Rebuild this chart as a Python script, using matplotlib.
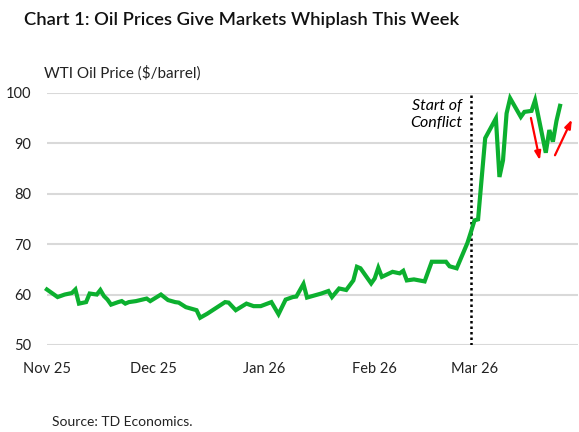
import matplotlib
matplotlib.use("Agg")
import matplotlib.pyplot as plt
import pandas as pd

plt.rcParams['font.family'] = ['Lato', 'DejaVu Sans']

# WTI price (turning points)
dates = ['2025-11-01', '2025-11-04', '2025-11-06', '2025-11-08', '2025-11-09', '2025-11-10',
         '2025-11-12', '2025-11-13', '2025-11-15', '2025-11-16', '2025-11-17', '2025-11-18',
         '2025-11-19', '2025-11-21', '2025-11-22', '2025-11-23', '2025-11-24', '2025-11-26',
         '2025-11-29', '2025-11-30', '2025-12-03', '2025-12-05', '2025-12-07', '2025-12-08',
         '2025-12-10', '2025-12-13', '2025-12-14', '2025-12-16', '2025-12-21', '2025-12-22',
         '2025-12-24', '2025-12-27', '2025-12-29', '2025-12-31', '2026-01-03', '2026-01-05',
         '2026-01-07', '2026-01-09', '2026-01-10', '2026-01-12', '2026-01-13', '2026-01-17',
         '2026-01-19', '2026-01-20', '2026-01-22', '2026-01-24', '2026-01-26', '2026-01-27',
         '2026-01-28', '2026-01-31', '2026-02-01', '2026-02-02', '2026-02-03', '2026-02-06',
         '2026-02-08', '2026-02-09', '2026-02-10', '2026-02-12', '2026-02-15', '2026-02-17',
         '2026-02-21', '2026-02-22', '2026-02-24', '2026-02-27', '2026-02-28', '2026-03-01',
         '2026-03-02', '2026-03-04', '2026-03-07', '2026-03-08', '2026-03-09', '2026-03-10',
         '2026-03-11', '2026-03-14', '2026-03-15', '2026-03-17', '2026-03-18', '2026-03-21',
         '2026-03-22', '2026-03-23', '2026-03-24', '2026-03-25']
wti = [61.0, 59.5, 60.0, 60.3, 61.0, 58.2,
       58.5, 60.2, 60.0, 60.9, 59.7, 59.0,
       58.0, 58.5, 58.7, 58.2, 58.5, 58.7,
       59.2, 58.7, 60.0, 58.9, 58.5, 58.4,
       57.5, 56.9, 55.4, 56.2, 58.5, 58.4,
       56.9, 58.2, 57.7, 57.7, 58.5, 56.1,
       59.0, 59.5, 59.6, 62.1, 59.4, 60.2,
       60.7, 59.5, 61.2, 60.9, 62.8, 65.5,
       65.2, 62.2, 63.2, 65.3, 63.5, 64.5,
       64.2, 64.7, 62.8, 63.0, 62.6, 66.5,
       66.5, 65.6, 65.2, 70.2, 72.4, 74.7,
       74.9, 91.0, 94.9, 83.3, 86.6, 95.9,
       98.9, 95.2, 96.2, 96.4, 98.5, 88.1,
       92.6, 90.3, 94.4, 97.4]

conflict_date = '2026-02-28'
tick_dates = ['2025-11-01', '2025-12-01', '2026-01-01', '2026-02-01', '2026-03-01']
tick_labels = ['Nov 25', 'Dec 25', 'Jan 26', 'Feb 26', 'Mar 26']

# red arrows: (start date, start value, end date, end value)
arrows = [('2026-03-16 20:00', 95.0, '2026-03-19 08:00', 86.6),
          ('2026-03-23 14:00', 87.6, '2026-03-28 08:00', 94.7)]

x = pd.to_datetime(dates)

fig = plt.figure(figsize=(5.79, 4.32), dpi=100)
ax = fig.add_axes([0.081, 0.2014, 0.917, 0.584])

ax.plot(x, wti, color='#0cb02f', lw=3.0, solid_joinstyle='miter', zorder=3, clip_on=False)

ax.axvline(pd.Timestamp(conflict_date), ymin=0, ymax=0.99, color='black',
           ls=(0, (1, 1.2)), lw=1.8, zorder=2)
ax.text(pd.Timestamp('2026-02-25 12:00'), 98.8, 'Start of\nConflict', ha='right', va='top',
        fontsize=11.5, style='italic', linespacing=1.3)

for x0, y0, x1, y1 in arrows:
    ax.annotate('', xy=(pd.Timestamp(x1), y1), xytext=(pd.Timestamp(x0), y0),
                arrowprops=dict(arrowstyle='-|>,head_length=0.5,head_width=0.18',
                                color='#ff0000', lw=1.6, shrinkA=0, shrinkB=0))

ax.set_xlim(pd.Timestamp('2025-11-01'), pd.Timestamp('2026-03-30'))
ax.set_ylim(50, 100)
ax.set_yticks([50, 60, 70, 80, 90, 100])
ax.set_xticks(pd.to_datetime(tick_dates))
ax.set_xticklabels(tick_labels)
ax.tick_params(axis='both', length=0, labelsize=10.5, colors='#222222')
ax.tick_params(axis='x', pad=12)
ax.tick_params(axis='y', pad=11)
ax.grid(axis='y', color='#d9d9d9', lw=1.5)
ax.set_axisbelow(True)
for s in ax.spines.values():
    s.set_visible(False)

fig.text(24 / 579, 1 - 20 / 432, 'Chart 1: Oil Prices Give Markets Whiplash This Week',
         fontsize=13.2, fontweight='semibold', va='center', ha='left', color='#111111')
fig.text(44 / 579, 1 - 73 / 432, 'WTI Oil Price ($/barrel)', fontsize=11,
         va='center', ha='left', color='#222222')
fig.text(52 / 579, 1 - 422 / 432, 'Source: TD Economics.', fontsize=10,
         va='center', ha='left', color='#222222')

fig.savefig('out.png', dpi=100)
